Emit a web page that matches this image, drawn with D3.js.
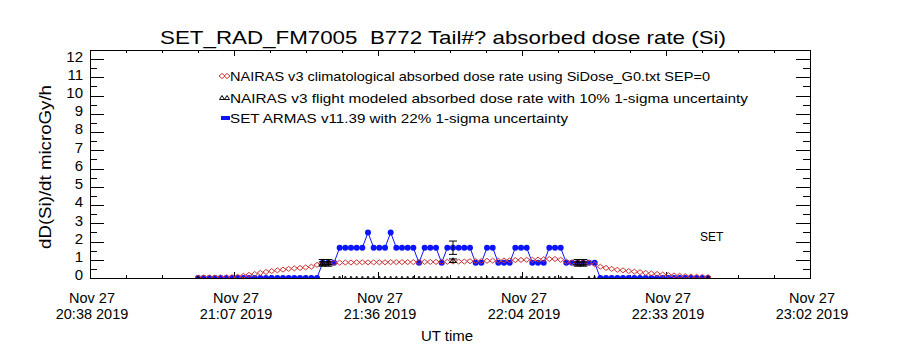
<!DOCTYPE html>
<html>
<head>
<meta charset="utf-8">
<script src="https://cdn.jsdelivr.net/npm/d3@7/dist/d3.min.js"></script>
<style>
  body { margin: 0; background: #fff; }
  text { font-family: "Liberation Sans", Arial, sans-serif; fill: #000; white-space: pre; }
</style>
</head>
<body>
<div id="chart"></div>
<script>
// ---- data ----
const titleText = "SET_RAD_FM7005  B772 Tail#? absorbed dose rate (Si)";
const yTitle = "dD(Si)/dt microGy/h";
const xTitle = "UT time";
const timeDomain = ["2019-11-27T20:38:24Z", "2019-11-27T23:02:24Z"];
const xTickTimes = ["2019-11-27T20:38:24Z", "2019-11-27T21:07:12Z", "2019-11-27T21:36:00Z",
                    "2019-11-27T22:04:48Z", "2019-11-27T22:33:36Z", "2019-11-27T23:02:24Z"];
const yTicks = [0, 1, 2, 3, 4, 5, 6, 7, 8, 9, 10, 11, 12];
const legendLabels = [
    "NAIRAS v3 climatological absorbed dose rate using SiDose_G0.txt SEP=0",
    "NAIRAS v3 flight modeled absorbed dose rate with 10% 1-sigma uncertainty",
    "SET ARMAS v11.39 with 22% 1-sigma uncertainty"
];

// one record every 68 s starting at 21:00 UT
const sampleStart = "2019-11-27T21:00:00Z";
const sampleSec = 68;

const climatological = [
    0.03, 0.03, 0.03, 0.03, 0.04, 0.04, 0.05, 0.07, 0.12, 0.17,
    0.22, 0.28, 0.33, 0.38, 0.42, 0.46, 0.50, 0.53, 0.55, 0.58,
    0.62, 0.72, 0.80, 0.82, 0.83, 0.84, 0.85, 0.85, 0.86, 0.86,
    0.86, 0.86, 0.86, 0.86, 0.87, 0.87, 0.87, 0.87, 0.87, 0.88,
    0.88, 0.88, 0.88, 0.89, 0.89, 0.90, 0.90, 0.90, 0.92, 0.93,
    0.93, 0.94, 0.95, 0.95, 0.96, 0.97, 0.98, 0.99, 1.00, 1.00,
    1.01, 1.03, 1.04, 1.04, 1.00, 0.90, 0.86, 0.85, 0.85, 0.84,
    0.75, 0.62, 0.55, 0.50, 0.45, 0.42, 0.38, 0.35, 0.32, 0.28,
    0.25, 0.22, 0.19, 0.16, 0.14, 0.12, 0.10, 0.08, 0.07, 0.06, 0.05
];

const flightModel = [
    0, null, null, null, null, null, null, null, null, null,
    null, null, null, null, null, null, null, null, null, null,
    null, null, 0.80, 0.81, 0, 0, 0, 0, 0, 0,
    0, 0, 0, 0, 0, 0, 0, 0, 0, 0,
    0, 0, 0, 0, 0, 0.95, 0, 0, 0, 0,
    0, 0, 0, 0, 0, 0, 0, 0, 0, 0,
    0, 0, 0, 0, 0, 0, 0, 0.80, 0.80, 0,
    0, null, null, null, null, null, null, null, null, null,
    null, null, null, null, null, null, null, null, null, null, 0
];

const armas = [
    0, 0, 0, 0, 0, 0, 0, 0, 0, 0,
    0, 0, 0, 0, 0, 0, 0, 0, 0, 0,
    0, 0, 0.83, 0.83, 0.83, 1.66, 1.66, 1.66, 1.66, 1.66,
    2.49, 1.66, 1.66, 1.66, 2.49, 1.66, 1.66, 1.66, 1.66, 0.83,
    1.66, 1.66, 1.66, 0.83, 1.66, 1.66, 1.66, 1.66, 1.66, 0.83,
    0.83, 1.66, 1.66, 0.83, 0.83, 0.83, 1.66, 1.66, 1.66, 0.83,
    0.83, 0.83, 1.66, 1.66, 1.66, 0.83, 0.83, 0.83, 0.83, 0.83,
    0.83, 0, 0, 0, 0, 0, 0, 0, 0, 0,
    0, 0, 0, 0, 0, 0, 0, 0, 0, 0, 0
];
const armasErrIdx = [22, 23, 45, 67, 68];
const armasErr = 0.22;
const modelErr = 0.10;

// ---- layout ----
const width = 900, height = 350;
const pLeft = 90, pRight = 810, pTop = 50, pBottom = 278;
const red = '#cc3333', blue = '#0a14ff';

const svg = d3.select('#chart').append('svg')
    .attr('width', width).attr('height', height);

const t0 = new Date(sampleStart).getTime();
const times = armas.map((d, i) => new Date(t0 + i * sampleSec * 1000));

const x = d3.scaleUtc().domain(timeDomain.map(d => new Date(d))).range([pLeft, pRight]);
const y = d3.scaleLinear().domain([0, 12.5]).range([pBottom, pTop]);

// ---- axes ----
const majors = xTickTimes.map(d => new Date(d));
const minors = [];
majors.slice(0, -1).forEach((d, i) => {
    const step = (majors[i + 1] - d) / 4;
    for (let k = 1; k < 4; k++) minors.push(new Date(d.getTime() + k * step));
});
const yMinor = yTicks.map(v => v + 0.5);

function axisG(axis, tx, ty) {
    const g = svg.append('g')
        .attr('transform', `translate(${tx},${ty})`)
        .call(axis);
    g.select('.domain').remove();
    g.selectAll('line').attr('stroke', '#000').attr('shape-rendering', 'crispEdges');
    return g;
}

axisG(d3.axisBottom(x).tickValues(majors).tickSize(-6).tickFormat(''), 0, pBottom);
axisG(d3.axisBottom(x).tickValues(minors).tickSize(-3).tickFormat(''), 0, pBottom);
axisG(d3.axisTop(x).tickValues(majors).tickSize(-6).tickFormat(''), 0, pTop);
axisG(d3.axisTop(x).tickValues(minors).tickSize(-3).tickFormat(''), 0, pTop);
axisG(d3.axisLeft(y).tickValues(yTicks).tickSize(-14).tickFormat(''), pLeft, 0);
axisG(d3.axisLeft(y).tickValues(yMinor).tickSize(-7).tickFormat(''), pLeft, 0);
axisG(d3.axisRight(y).tickValues(yTicks).tickSize(-14).tickFormat(''), pRight, 0);
axisG(d3.axisRight(y).tickValues(yMinor).tickSize(-7).tickFormat(''), pRight, 0);

svg.append('rect')
    .attr('x', pLeft + 0.5).attr('y', pTop + 0.5)
    .attr('width', pRight - pLeft).attr('height', pBottom - pTop)
    .attr('fill', 'none').attr('stroke', '#000').attr('shape-rendering', 'crispEdges');

// y tick labels
svg.append('g').selectAll('text')
    .data(yTicks)
    .join('text')
    .attr('x', pLeft - 7)
    .attr('y', d => y(d) - 3)
    .attr('dy', '0.36em')
    .attr('text-anchor', 'end')
    .style('font-size', '15px')
    .text(d => d);

// x tick labels (two lines)
const fmtDay = d3.utcFormat('%b %d');
const fmtTime = d3.utcFormat('%H:%M %Y');
const xl = svg.append('g').selectAll('g')
    .data(majors)
    .join('g')
    .attr('transform', d => `translate(${x(d) + 2},0)`);
xl.append('text').attr('y', 303).attr('text-anchor', 'middle')
    .style('font-size', '14.5px').text(d => fmtDay(d));
xl.append('text').attr('y', 319).attr('text-anchor', 'middle')
    .style('font-size', '14.5px').text(d => fmtTime(d));

svg.append('text')
    .attr('x', 447).attr('y', 341)
    .attr('text-anchor', 'middle')
    .style('font-size', '15px')
    .text(xTitle);

svg.append('text')
    .attr('transform', 'translate(51,167) rotate(-90)')
    .attr('text-anchor', 'middle')
    .attr('textLength', 164).attr('lengthAdjust', 'spacingAndGlyphs')
    .style('font-size', '16px')
    .text(yTitle);

svg.append('text')
    .attr('x', 160).attr('y', 44)
    .attr('textLength', 566).attr('lengthAdjust', 'spacingAndGlyphs')
    .style('font-size', '19px')
    .text(titleText);

// ---- data marks ----
svg.append('clipPath').attr('id', 'plotclip')
    .append('rect').attr('x', pLeft).attr('y', pTop)
    .attr('width', pRight - pLeft).attr('height', pBottom - pTop);
const plot = svg.append('g').attr('clip-path', 'url(#plotclip)');

// ARMAS line + filled circles
plot.append('path')
    .datum(armas)
    .attr('d', d3.line().x((d, i) => x(times[i])).y(d => y(d)))
    .attr('fill', 'none').attr('stroke', blue).attr('stroke-width', 1);
plot.append('g').selectAll('circle')
    .data(armas)
    .join('circle')
    .attr('cx', (d, i) => x(times[i]))
    .attr('cy', d => y(d))
    .attr('r', 3)
    .attr('fill', blue);

// climatological: open diamonds
const diamond = (cx, cy) => `M${cx - 3},${cy}L${cx},${cy - 2.5}L${cx + 3},${cy}L${cx},${cy + 2.5}Z`;
plot.append('g').selectAll('path')
    .data(climatological)
    .join('path')
    .attr('d', (d, i) => diamond(x(times[i]), y(d)))
    .attr('fill', 'none').attr('stroke', red).attr('stroke-width', 1);

// flight model: small open triangles
const tri = (cx, cy, s) => `M${cx - s},${cy + s * 0.6}L${cx},${cy - s}L${cx + s},${cy + s * 0.6}Z`;
const fm = flightModel.map((d, i) => ({ v: d, t: times[i] })).filter(d => d.v !== null);
plot.append('g').selectAll('path')
    .data(fm)
    .join('path')
    .attr('d', d => d.v > 0 ? tri(x(d.t), y(d.v), 3) : tri(x(d.t), y(d.v) - 1, 1))
    .attr('fill', 'none').attr('stroke', '#000').attr('stroke-width', 0.8);

// error bars
function errBar(g, cx, v, frac) {
    const y1 = y(v * (1 + frac)), y2 = y(v * (1 - frac));
    g.append('line').attr('x1', cx).attr('x2', cx).attr('y1', y1).attr('y2', y2);
    g.append('line').attr('x1', cx - 4).attr('x2', cx + 4).attr('y1', y1).attr('y2', y1);
    g.append('line').attr('x1', cx - 4).attr('x2', cx + 4).attr('y1', y2).attr('y2', y2);
}
const eb = plot.append('g').attr('stroke', '#000').attr('stroke-width', 1);
armasErrIdx.forEach(i => errBar(eb, x(times[i]), armas[i], armasErr));
fm.filter(d => d.v > 0).forEach(d => errBar(eb, x(d.t), d.v, modelErr));

// ---- legend ----
const lg = svg.append('g');
const legY = [76, 98, 118];
lg.append('path').attr('d', diamond(222, legY[0]) + diamond(227, legY[0]))
    .attr('fill', 'none').attr('stroke', red);
lg.append('path').attr('d', tri(222, legY[1], 2.5) + tri(227, legY[1], 2.5))
    .attr('fill', 'none').attr('stroke', '#000');
lg.append('rect').attr('x', 221).attr('y', legY[2] - 2).attr('width', 9).attr('height', 4)
    .attr('fill', blue);
const legLen = [480, 518, 338];
lg.selectAll('text')
    .data(legendLabels)
    .join('text')
    .attr('x', 230)
    .attr('y', (d, i) => legY[i] + 5)
    .attr('textLength', (d, i) => legLen[i]).attr('lengthAdjust', 'spacingAndGlyphs')
    .style('font-size', '13.5px')
    .text(d => d);

svg.append('text')
    .attr('x', 700).attr('y', 241)
    .style('font-size', '12px')
    .text('SET');
</script>
</body>
</html>
